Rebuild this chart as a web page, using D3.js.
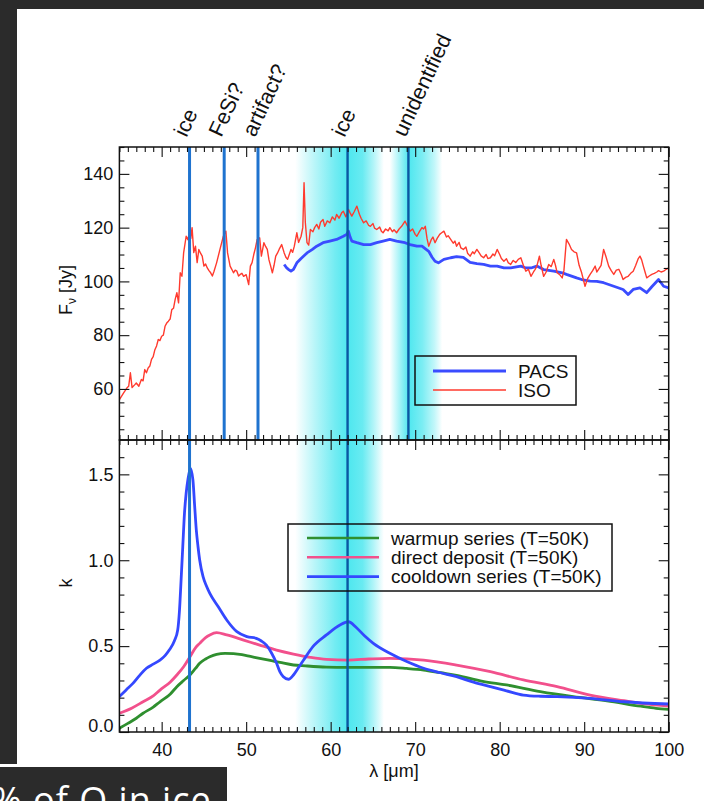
<!DOCTYPE html>
<html>
<head>
<meta charset="utf-8">
<script src="https://cdn.jsdelivr.net/npm/d3@7"></script>
<style>
  html, body { margin: 0; padding: 0; background: #ffffff; }
  svg { display: block; }
  text { font-family: "Liberation Sans", Arial, Helvetica, sans-serif; fill: #111; }
</style>
</head>
<body>
<svg id="chart" width="704" height="801"></svg>
<script>
// ---------- data ----------
const wavelengthTicks = [40, 50, 60, 70, 80, 90, 100];
const fluxTicks = [60, 80, 100, 120, 140];
const kTicks = [0.0, 0.5, 1.0, 1.5];

const featureLabels = ["ice", "FeSi?", "artifact?", "ice", "unidentified"];
const featureWavelengths = [43.3, 47.4, 51.4, 62.0, 69.2];
const featureInBothPanels = [true, false, false, true, false];

// shaded wavelength ranges around the broad features
const bandStart = [55.8, 67.0];
const bandEnd = [66.3, 73.2];
const bandInBothPanels = [true, false];

// ISO spectrum (Jy)
const isoWave = [35.0,35.3,35.5,35.9,36.1,36.3,36.5,36.8,37.0,37.3,37.6,37.8,38.0,38.2,38.4,38.6,38.8,39.0,39.2,39.4,
  39.6,39.8,40.0,40.2,40.4,40.6,40.8,41.0,41.2,41.4,41.6,41.8,42.0,42.2,42.4,42.6,42.9,43.1,43.28,43.45,
  43.6,43.8,44.0,44.2,44.4,44.6,44.8,45.0,45.2,45.4,45.6,45.8,46.0,46.2,46.5,46.9,47.3,47.6,47.8,48.1,
  48.3,48.5,48.7,48.9,49.1,49.3,49.5,49.7,50.0,50.3,50.5,50.7,50.9,51.1,51.3,51.6,51.8,52.1,52.3,52.5,
  52.7,52.9,53.1,53.3,53.5,53.7,53.9,54.2,54.5,54.7,54.9,55.1,55.3,55.5,55.7,56.0,56.2,56.5,56.7,56.85,
  57.0,57.2,57.4,57.6,57.9,58.1,58.35,58.6,58.8,59.1,59.3,59.6,59.9,60.2,60.5,60.7,61.0,61.3,61.5,61.8,
  62.1,62.3,62.5,62.8,63.1,63.4,63.6,63.9,64.2,64.5,64.7,65.0,65.2,65.45,65.8,66.0,66.2,66.5,66.8,67.0,
  67.3,67.5,67.8,68.1,68.4,68.8,69.1,69.4,69.7,70.0,70.2,70.5,70.8,71.0,71.2,71.4,71.6,71.9,72.1,72.35,
  72.6,72.9,73.1,73.4,73.7,73.9,74.2,74.5,74.7,74.9,75.2,75.4,75.7,76.0,76.2,76.5,76.8,77.0,77.3,77.6,
  77.8,78.1,78.4,78.6,78.9,79.2,79.4,79.7,80.0,80.2,80.5,80.8,81.0,81.3,81.6,81.9,82.2,82.5,82.8,83.1,
  83.4,83.7,84.0,84.2,84.4,84.7,84.9,85.2,85.5,85.8,86.1,86.4,86.6,86.8,87.1,87.4,87.6,87.9,88.2,88.5,
  88.8,89.1,89.4,89.7,90.1,90.4,90.7,91.0,91.3,91.5,91.7,92.0,92.3,92.6,92.9,93.2,93.5,93.8,94.1,94.4,
  94.6,94.9,95.2,95.5,95.8,96.1,96.4,96.6,96.8,97.0,97.2,97.4,97.7,98.0,98.3,98.6,98.8,99.1,99.4,99.7,100.0];
const isoFlux = [56.0,57.5,58.5,60.4,61.0,66.0,60.5,61.5,62.2,61.0,63.5,63.0,67.2,66.0,67.8,68.5,71.0,72.0,74.6,76.0,
  78.4,78.0,79.6,80.0,83.3,84.5,85.2,86.0,89.5,90.0,93.3,95.8,92.0,103.2,101.9,110.6,116.8,115.5,118.1,116.0,
  120.0,110.7,113.1,107.0,111.9,110.5,109.4,105.7,106.5,105.0,104.0,103.2,102.0,103.8,106.9,111.9,116.8,118.7,110.6,105.7,
  104.5,103.2,104.2,103.8,102.0,102.6,103.0,101.9,102.5,98.8,105.7,107.0,110.0,112.5,115.6,116.2,109.4,114.4,113.0,111.9,
  108.0,105.7,103.2,106.0,109.4,110.5,111.9,113.7,110.6,109.0,108.2,110.0,111.9,110.8,113.1,118.1,114.5,116.8,120.0,136.7,
  122.0,114.4,113.5,119.3,118.5,120.0,121.2,119.5,122.0,123.0,120.5,122.5,121.8,124.0,122.8,124.9,123.5,125.5,126.1,124.0,
  126.8,125.5,124.3,126.0,128.0,125.0,123.5,121.8,122.5,120.8,120.5,121.5,119.8,119.3,120.2,118.7,118.1,119.5,118.8,120.0,
  118.5,119.2,118.1,119.5,120.5,122.4,120.5,118.7,119.5,117.5,116.8,118.5,120.0,119.5,120.5,116.0,113.1,115.5,116.5,114.4,
  116.0,117.5,118.0,118.7,116.5,117.0,115.6,114.2,115.0,113.1,114.5,112.5,111.9,112.8,110.5,109.4,111.0,110.3,111.9,110.5,
  109.5,108.8,110.0,108.5,108.8,110.2,109.5,111.9,110.0,108.5,107.5,108.4,107.0,106.3,107.8,107.0,108.2,108.8,106.0,103.8,
  104.5,101.9,103.5,104.5,105.7,109.4,106.0,101.9,103.5,106.3,105.5,108.2,106.0,103.2,102.5,101.3,104.0,115.6,114.0,111.9,
  111.0,110.6,106.0,103.2,98.2,101.0,102.6,104.0,105.7,103.5,104.5,106.0,111.9,109.0,105.7,104.0,102.6,104.2,104.5,102.5,
  100.7,101.5,101.9,103.0,103.8,106.0,108.5,109.4,108.0,105.7,103.5,101.3,102.0,102.6,103.0,103.5,104.0,103.5,103.8,104.5,105.0];

// PACS spectrum (Jy)
const pacsWave = [54.5,54.8,55.0,55.3,55.6,56.0,56.5,57.2,57.8,58.35,59.1,59.9,60.7,61.5,61.9,62.1,62.3,62.5,63.1,63.9,
  64.7,65.45,66.2,67.0,67.8,68.8,69.4,70.2,70.8,71.6,72.0,72.35,72.75,73.4,74.2,74.9,75.7,76.5,77.3,78.1,
  78.9,79.7,80.5,81.3,82.5,83.1,83.7,84.4,85.2,86.4,87.4,87.9,89.1,89.7,90.7,91.5,92.3,93.5,94.6,95.2,
  95.8,96.6,97.4,98.0,98.8,99.4,100.0];
const pacsFlux = [106.3,105.0,104.5,103.8,104.5,106.9,108.5,110.6,111.8,113.1,114.4,115.0,115.6,116.8,117.5,118.7,116.5,115.0,114.4,113.7,
  113.7,114.4,115.0,115.6,115.0,114.4,113.7,113.1,113.1,111.2,109.0,107.5,106.9,108.2,108.8,109.2,108.9,107.1,106.6,106.3,
  105.7,105.7,105.0,105.0,105.7,105.0,105.0,105.7,104.4,103.8,103.2,102.6,101.3,100.7,100.1,100.0,99.5,98.2,97.0,95.1,
  97.0,97.6,95.8,98.0,100.7,98.2,97.6];

// optical constant k, T = 50 K
const warmupWave = [35,36,37,37.8,39,39.8,41,41.8,42.6,43.35,44,44.5,45.2,45.7,46.5,47.5,48.5,49.5,50.5,51.6,
  53,54,55.6,57,59.5,62,65,67,69,71,73,74.9,78,80.8,84.8,88.7,92.7,96.7,98.5,100];
const warmupK = [0.022,0.05,0.08,0.109,0.145,0.176,0.22,0.264,0.30,0.332,0.37,0.40,0.425,0.438,0.452,0.458,0.456,0.45,0.44,0.429,
  0.415,0.405,0.39,0.385,0.378,0.376,0.376,0.376,0.37,0.361,0.345,0.33,0.295,0.274,0.235,0.206,0.182,0.15,0.138,0.132];

const depositWave = [35,36.5,37.8,39,39.8,41,41.8,42.6,43.35,44,44.5,45.2,45.7,46.5,47.7,49.7,51.6,53.6,55.6,57.6,
  59.5,62.1,64.5,67,71,74.9,78.9,82.8,86.8,90.7,94.7,97,100];
const depositK = [0.109,0.14,0.176,0.21,0.244,0.29,0.332,0.38,0.438,0.49,0.516,0.55,0.565,0.578,0.565,0.535,0.506,0.477,0.454,0.435,
  0.423,0.419,0.425,0.429,0.419,0.39,0.351,0.303,0.264,0.215,0.182,0.165,0.151];

const cooldownWave = [35,35.8,36.6,37.4,38.2,39,39.8,40.4,40.9,41.5,41.9,42.1,42.3,42.5,42.7,42.9,43.1,43.4,43.7,43.9,
  44.1,44.3,44.5,44.9,45.3,45.7,46.7,47.7,48.9,50.1,51.2,51.8,52.4,53.0,53.6,54.0,54.4,55.0,55.6,56.2,
  56.8,57.9,59.5,61.1,62.1,63.0,64.0,65.05,67.0,69,71.0,73,74.9,76.9,78.9,80.8,82.8,84.8,86.8,90.7,94.7,100];
const cooldownK = [0.206,0.245,0.283,0.33,0.371,0.395,0.419,0.445,0.477,0.53,0.594,0.70,0.885,1.08,1.273,1.39,1.467,1.535,1.467,1.32,
  1.176,1.08,1.001,0.904,0.85,0.807,0.729,0.652,0.584,0.555,0.545,0.53,0.506,0.46,0.40,0.35,0.322,0.307,0.332,0.375,
  0.419,0.497,0.565,0.623,0.642,0.61,0.56,0.516,0.458,0.41,0.371,0.345,0.322,0.29,0.264,0.24,0.215,0.208,0.206,0.196,0.176,0.163];

const fluxSeriesNames = ["PACS", "ISO"];
const kSeriesNames = ["warmup series (T=50K)", "direct deposit (T=50K)", "cooldown series (T=50K)"];

// ---------- layout ----------
const L = 119.4, R = 668.7, T1 = 147, B1 = 440, B2 = 732;
const FONT = 18;
const LEGEND_FONT = 19;
const colors = {
  pacs: "#3a4cff", iso: "#ff3a2e",
  warmup: "#2f8f2f", deposit: "#f2508c", cooldown: "#3448ff",
  band: "#4fe7ef", feature: "#1f73cf", featureDark: "#0b58a3", dark: "#2b2b2b"
};

const svg = d3.select("#chart");
const defs = svg.append("defs");

const x = d3.scaleLinear().domain([35, 100]).range([L, R]);
const yFlux = d3.scaleLinear().domain([41, 150]).range([B1, T1]);
const yK = d3.scaleLinear().domain([0, 1.7]).range([B2, B1]);

// page surroundings
svg.append("rect").attr("x", 0).attr("y", 0).attr("width", 704).attr("height", 801).attr("fill", "#fff");
svg.append("rect").attr("x", 0).attr("y", 0).attr("width", 704).attr("height", 9).attr("fill", colors.dark);
svg.append("rect").attr("x", 0).attr("y", 0).attr("width", 17).attr("height", 764).attr("fill", colors.dark);
svg.append("rect").attr("x", 0).attr("y", 767).attr("width", 227).attr("height", 34).attr("fill", colors.dark);
svg.append("text").attr("x", -8).attr("y", 813)
  .style("font-family", "'Open Sans', 'Noto Sans', sans-serif").style("font-size", "36px")
  .style("letter-spacing", "1px").style("fill", "#ffffff")
  .text("% of Q in ice");

// clip paths for the two panels
defs.append("clipPath").attr("id", "clipTop").append("rect")
  .attr("x", L).attr("y", T1).attr("width", R - L).attr("height", B1 - T1);
defs.append("clipPath").attr("id", "clipBot").append("rect")
  .attr("x", L).attr("y", B1).attr("width", R - L).attr("height", B2 - B1);

// shaded bands (horizontal cyan gradients)
const bandStops = [
  [[0, 0], [0.22, 0.4], [0.45, 0.8], [0.6, 1], [0.76, 0.85], [0.88, 0.45], [1, 0]],
  [[0, 0], [0.2, 0.55], [0.36, 1], [0.62, 0.75], [0.85, 0.35], [1, 0]]
];
bandStart.forEach((s, i) => {
  const grad = defs.append("linearGradient").attr("id", "band" + i)
    .attr("gradientUnits", "userSpaceOnUse")
    .attr("x1", x(s)).attr("x2", x(bandEnd[i])).attr("y1", 0).attr("y2", 0);
  bandStops[i].forEach(([o, a]) => grad.append("stop")
    .attr("offset", o).attr("stop-color", colors.band).attr("stop-opacity", a));
  svg.append("rect")
    .attr("x", x(s)).attr("width", x(bandEnd[i]) - x(s))
    .attr("y", T1).attr("height", (bandInBothPanels[i] ? B2 : B1) - T1)
    .attr("fill", `url(#band${i})`);
});

// upper panel: flux spectra
const fluxLine = d3.line().x(d => x(d[0])).y(d => yFlux(d[1]));
const gTop = svg.append("g").attr("clip-path", "url(#clipTop)");
gTop.append("path").datum(d3.zip(pacsWave, pacsFlux))
  .attr("d", fluxLine).attr("fill", "none").attr("stroke", colors.pacs)
  .attr("stroke-width", 2.8).attr("stroke-linejoin", "round");
gTop.append("path").datum(d3.zip(isoWave, isoFlux))
  .attr("d", fluxLine).attr("fill", "none").attr("stroke", colors.iso)
  .attr("stroke-width", 1.4).attr("stroke-linejoin", "round");

// lower panel: k curves
const kLine = d3.line().x(d => x(d[0])).y(d => yK(d[1])).curve(d3.curveMonotoneX);
const gBot = svg.append("g").attr("clip-path", "url(#clipBot)");
[[warmupWave, warmupK, colors.warmup], [depositWave, depositK, colors.deposit], [cooldownWave, cooldownK, colors.cooldown]]
  .forEach(([w, k, c]) => gBot.append("path").datum(d3.zip(w, k))
    .attr("d", kLine).attr("fill", "none").attr("stroke", c)
    .attr("stroke-width", 2.8).attr("stroke-linejoin", "round"));

// feature markers
featureWavelengths.forEach((w, i) => {
  const inBand = i >= 3;
  svg.append("line")
    .attr("x1", x(w)).attr("x2", x(w))
    .attr("y1", T1).attr("y2", featureInBothPanels[i] ? B2 : B1)
    .attr("stroke", inBand ? colors.featureDark : colors.feature)
    .attr("stroke-width", inBand ? 2.4 : 3);
  svg.append("text")
    .attr("transform", `translate(${x(w) - 3},138) rotate(-65)`)
    .style("font-size", "21.5px")
    .text(featureLabels[i]);
});

// ticks on all four sides of each panel
function sideTicks(axisFn, scale, values, size, tx, ty) {
  const g = svg.append("g").attr("transform", `translate(${tx},${ty})`)
    .call(axisFn(scale).tickValues(values).tickSize(size).tickSizeOuter(0).tickFormat(""));
  g.select(".domain").remove();
  g.selectAll(".tick line").attr("stroke", "#111").attr("stroke-width", 1.1);
}
const xMinor = d3.range(35, 101).filter(v => v % 10 !== 0);
const fluxMinor = d3.range(45, 151, 5).filter(v => v % 20 !== 0);
const kMinor = d3.range(1, 17).filter(i => i % 5 !== 0).map(i => i / 10);

[[yFlux, fluxTicks, fluxMinor], [yK, kTicks, kMinor]].forEach(([ys, major, minor]) => {
  sideTicks(d3.axisRight, ys, major, 10, L, 0);
  sideTicks(d3.axisRight, ys, minor, 5, L, 0);
  sideTicks(d3.axisLeft, ys, major, 10, R, 0);
  sideTicks(d3.axisLeft, ys, minor, 5, R, 0);
});
[[T1, d3.axisBottom], [B1, d3.axisTop], [B1, d3.axisBottom], [B2, d3.axisTop]].forEach(([yy, fn]) => {
  sideTicks(fn, x, wavelengthTicks, 10, 0, yy);
  sideTicks(fn, x, xMinor, 5, 0, yy);
});

// panel frames
[[T1, B1], [B1, B2]].forEach(([a, b]) => svg.append("rect")
  .attr("x", L).attr("y", a).attr("width", R - L).attr("height", b - a)
  .attr("fill", "none").attr("stroke", "#111").attr("stroke-width", 1.5));

// tick labels
function labelAxis(axis, tx, ty) {
  const g = svg.append("g").attr("transform", `translate(${tx},${ty})`).call(axis);
  g.select(".domain").remove();
  g.selectAll(".tick line").remove();
  g.selectAll("text").style("font-size", FONT + "px")
    .style("font-family", "'Liberation Sans', Arial, Helvetica, sans-serif").attr("fill", "#111");
  return g;
}
labelAxis(d3.axisLeft(yFlux).tickValues(fluxTicks).tickSize(0).tickPadding(6), L, 0);
const kLabels = labelAxis(d3.axisLeft(yK).tickValues(kTicks).tickSize(0).tickPadding(6).tickFormat(d3.format(".1f")), L, 0);
kLabels.selectAll(".tick").filter(d => d === 0).select("text").attr("y", -6);
labelAxis(d3.axisBottom(x).tickValues(wavelengthTicks).tickSize(0).tickPadding(11), 0, B2);

// axis titles
const fTitle = svg.append("text").attr("transform", "translate(72,290) rotate(-90)")
  .attr("text-anchor", "middle").style("font-size", FONT + "px");
fTitle.append("tspan").text("F");
fTitle.append("tspan").attr("dy", 4).style("font-size", "12px").text("ν");
fTitle.append("tspan").attr("dy", -4).text(" [Jy]");
svg.append("text").attr("transform", "translate(72,583) rotate(-90)")
  .attr("text-anchor", "middle").style("font-size", FONT + "px").text("k");
svg.append("text").attr("x", (L + R) / 2).attr("y", 777)
  .attr("text-anchor", "middle").style("font-size", FONT + "px").text("λ [μm]");

// legends
function legend(box, rows) {
  svg.append("rect").attr("x", box.x).attr("y", box.y).attr("width", box.w).attr("height", box.h)
    .attr("fill", "none").attr("stroke", "#111").attr("stroke-width", 1.5);
  rows.forEach((r, i) => {
    const yy = box.rowY + i * box.step;
    svg.append("line").attr("x1", box.lx1).attr("x2", box.lx2).attr("y1", yy).attr("y2", yy)
      .attr("stroke", r.color).attr("stroke-width", r.width);
    svg.append("text").attr("x", box.tx).attr("y", yy + 6.5)
      .style("font-size", LEGEND_FONT + "px").text(r.name);
  });
}
legend({ x: 415, y: 356, w: 161, h: 49, rowY: 371, step: 19, lx1: 433, lx2: 506, tx: 518 },
  [{ name: fluxSeriesNames[0], color: colors.pacs, width: 2.8 },
   { name: fluxSeriesNames[1], color: colors.iso, width: 1.4 }]);
legend({ x: 288, y: 524, w: 324, h: 67, rowY: 538, step: 19.3, lx1: 307, lx2: 379, tx: 391 },
  [{ name: kSeriesNames[0], color: colors.warmup, width: 2.6 },
   { name: kSeriesNames[1], color: colors.deposit, width: 2.6 },
   { name: kSeriesNames[2], color: colors.cooldown, width: 2.6 }]);
</script>
</body>
</html>
